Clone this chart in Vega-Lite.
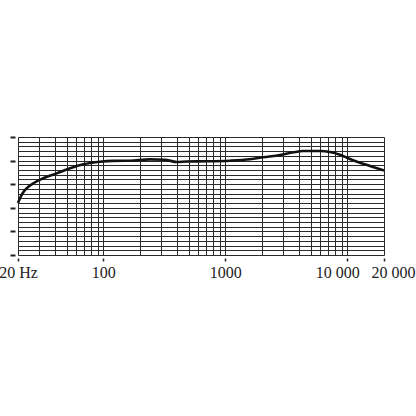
{
  "$schema": "https://vega.github.io/schema/vega-lite/v6.json",
  "width": 366,
  "height": 118,
  "autosize": {"type": "none"},
  "padding": {"left": 18, "top": 137, "right": 32, "bottom": 161},
  "background": "white",
  "config": {"view": {"stroke": null}},
  "data": {
    "values": [
      {"freq": 20, "db": -9.0},
      {"freq": 21, "db": -7.7},
      {"freq": 22.1, "db": -6.7},
      {"freq": 24.2, "db": -5.6},
      {"freq": 26.7, "db": -4.8},
      {"freq": 32.2, "db": -3.75},
      {"freq": 41.5, "db": -2.7},
      {"freq": 53.4, "db": -1.63},
      {"freq": 68.6, "db": -0.78},
      {"freq": 94, "db": -0.23},
      {"freq": 120, "db": -0.05},
      {"freq": 165, "db": -0.02},
      {"freq": 240, "db": 0.25},
      {"freq": 320, "db": 0.18},
      {"freq": 400, "db": -0.3},
      {"freq": 483, "db": -0.18},
      {"freq": 705, "db": -0.15},
      {"freq": 1094, "db": -0.02},
      {"freq": 1595, "db": 0.28},
      {"freq": 2050, "db": 0.7},
      {"freq": 2812, "db": 1.19},
      {"freq": 3615, "db": 1.76},
      {"freq": 4366, "db": 2.03},
      {"freq": 5976, "db": 2.03},
      {"freq": 7214, "db": 1.82},
      {"freq": 8712, "db": 1.25},
      {"freq": 10521, "db": 0.34},
      {"freq": 12708, "db": -0.44},
      {"freq": 15350, "db": -1.14},
      {"freq": 20000, "db": -2.1}
    ]
  },
  "mark": {"type": "line", "color": "#111", "strokeWidth": 2.6, "interpolate": "monotone"},
  "encoding": {
    "x": {
      "field": "freq",
      "type": "quantitative",
      "scale": {"type": "log", "domain": [20, 20000], "nice": false},
      "axis": {
        "title": null,
        "values": [20, 30, 40, 50, 60, 70, 80, 90, 100, 200, 300, 400, 500, 600, 700, 800, 900, 1000, 2000, 3000, 4000, 5000, 6000, 7000, 8000, 9000, 10000, 20000],
        "grid": true,
        "gridColor": "#2a2a2a",
        "gridWidth": 1,
        "gridOpacity": 1,
        "domain": false,
        "offset": 3,
        "tickSize": 3,
        "tickWidth": 1.5,
        "tickColor": "#222",
        "tickOpacity": {"condition": {"test": "indexof([20, 100, 1000, 10000, 20000], datum.value) >= 0", "value": 1}, "value": 0},
        "labelExpr": "datum.value == 20 ? '20 Hz' : datum.value == 100 ? '100' : datum.value == 1000 ? '1000' : datum.value == 10000 ? '10 000' : datum.value == 20000 ? '20 000' : ''",
        "labelOffset": {"condition": [{"test": "datum.value == 10000", "value": -10}, {"test": "datum.value == 20000", "value": 9}], "value": 0},
        "labelFont": "Liberation Serif",
        "labelFontSize": 16,
        "labelColor": "#222",
        "labelPadding": 3,
        "labelOverlap": false,
        "labelFlush": false,
        "labelBound": false
      }
    },
    "y": {
      "field": "db",
      "type": "quantitative",
      "scale": {"domain": [-20, 5], "nice": false, "zero": false},
      "axis": {
        "title": null,
        "values": [-20, -19, -18, -17, -16, -15, -14, -13, -12, -11, -10, -9, -8, -7, -6, -5, -4, -3, -2, -1, 0, 1, 2, 3, 4, 5],
        "grid": true,
        "gridColor": "#2a2a2a",
        "gridWidth": 1,
        "gridOpacity": 1,
        "domain": false,
        "offset": 3,
        "tickSize": 5,
        "tickWidth": 2,
        "tickColor": "#222",
        "tickOpacity": {"condition": {"test": "datum.value % 5 == 0", "value": 1}, "value": 0},
        "labels": false
      }
    }
  }
}
